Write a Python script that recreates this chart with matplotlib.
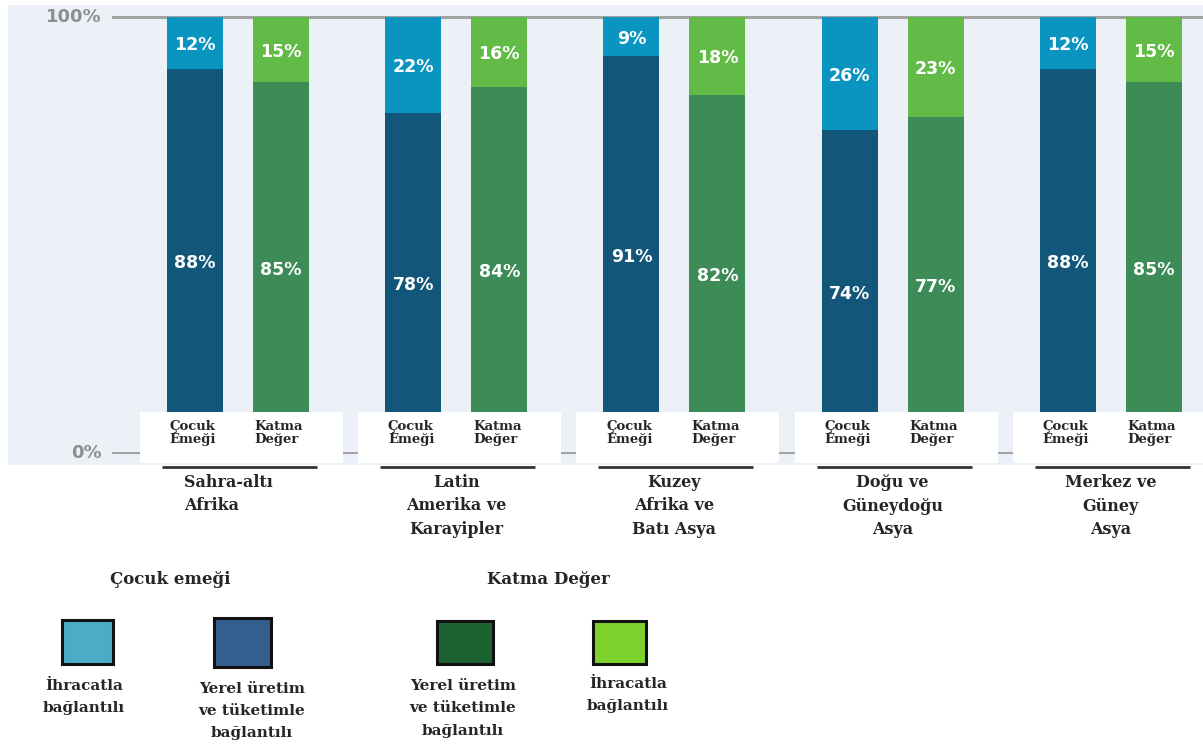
import matplotlib
matplotlib.use("Agg")
import matplotlib.pyplot as plt
from matplotlib.patches import Rectangle
import numpy as np

# ---------------- data ----------------
regions = ["Sahra-altı\nAfrika", "Latin\nAmerika ve\nKarayipler", "Kuzey\nAfrika ve\nBatı Asya",
           "Doğu ve\nGüneydoğu\nAsya", "Merkez ve\nGüney\nAsya"]
region_align = ["left", "center", "center", "center", "center"]
child_local = [88, 78, 91, 74, 88]
child_export = [12, 22, 9, 26, 12]
va_local = [85, 84, 82, 77, 85]
va_export = [15, 16, 18, 23, 15]
bar_names = ["Çocuk\nEmeği", "Katma\nDeğer"]
ytick_vals = [0, 100]
ytick_labels = ["0%", "100%"]
legend_titles = ["Çocuk emeği", "Katma Değer"]
legend_labels = ["İhracatla\nbağlantılı", "Yerel üretim\nve tüketimle\nbağlantılı",
                 "Yerel üretim\nve tüketimle\nbağlantılı", "İhracatla\nbağlantılı"]

# ---------------- styles ----------------
C_CE_LOC = "#12577A"
C_CE_EXP = "#0A94C0"
C_VA_LOC = "#3D8B57"
C_VA_EXP = "#63BB47"
LEG_COLORS = ["#4BACC6", "#345E8E", "#1D6231", "#7DD22B"]
BG = "#ECF1F8"
SERIF = ["DejaVu Serif"]
TXT = "#262626"

W, H = 1203, 749
fig = plt.figure(figsize=(W / 100, H / 100), dpi=100)
fig.patch.set_facecolor("white")


def fx(px):
    return px / W


def fy(py):
    return 1 - py / H


ax = fig.add_axes([fx(8), fy(465), (1203 - 8) / W, 460 / H])
ax.set_facecolor(BG)
for s in ax.spines.values():
    s.set_visible(False)
ax.set_xticks([])
ax.set_yticks([])

ppx = 218.2          # pixels per group
x0px = 238           # pixel of group 0 centre
ax.set_xlim((8 - x0px) / ppx, (1203 - x0px) / ppx)
ypu = 4.36           # pixels per percent
ax.set_ylim(-(465 - 453) / ypu, 100 + (17 - 5) / ypu)

x = np.arange(len(regions))
off = 86 / 2 / ppx
bw = 56 / ppx
xc = x - off
xv = x + off

# grid lines at 0 and 100
gx0 = (113 - 8) / 1195
ax.axhline(100, xmin=gx0, xmax=1, color="#A3A3A3", lw=2.2, zorder=1)
ax.axhline(0, xmin=gx0, xmax=1, color="#9A9A9A", lw=1.3, zorder=1)

# bars
ax.bar(xc, child_local, width=bw, color=C_CE_LOC, zorder=2)
ax.bar(xc, child_export, width=bw, bottom=child_local, color=C_CE_EXP, zorder=2)
ax.bar(xv, va_local, width=bw, color=C_VA_LOC, zorder=2)
ax.bar(xv, va_export, width=bw, bottom=va_local, color=C_VA_EXP, zorder=2)

lab_kw = dict(ha="center", va="center", color="white", fontsize=12.5,
              fontweight="bold", zorder=5)
for i in range(len(regions)):
    ax.text(xc[i], child_local[i] / 2 - 0.5, f"{child_local[i]}%", **lab_kw)
    ax.text(xc[i], child_local[i] + child_export[i] / 2 - 0.5, f"{child_export[i]}%", **lab_kw)
    ax.text(xv[i], va_local[i] / 2 - 0.5, f"{va_local[i]}%", **lab_kw)
    ax.text(xv[i], va_local[i] + va_export[i] / 2 - 0.5, f"{va_export[i]}%", **lab_kw)

# y tick labels drawn inside
for v, t in zip(ytick_vals, ytick_labels):
    ax.text((102 - x0px) / ppx, v, t, ha="right", va="center", color="#8E8E8E",
            fontsize=13, fontweight="bold", zorder=5)

# white label boxes under bars
box_l = (x0px - 140) / ppx
box_r = (343 - x0px) / ppx
box_b = -(463 - 453) / ypu
box_t = (453 - 412) / ypu
for i in range(len(regions)):
    ax.add_patch(Rectangle((x[i] - box_l, box_b), box_l + box_r, box_t - box_b,
                           facecolor="white", edgecolor="none", zorder=4, clip_on=False))
    for xx, name in zip([xc[i], xv[i]], bar_names):
        ax.text(xx - 2 / ppx, (453 - 433) / ypu, name, ha="center", va="center",
                family=SERIF, fontsize=9.5, fontweight="bold", color=TXT,
                multialignment="left", linespacing=1.05, zorder=6)

# underline + region labels
uy = -(467 - 453) / ypu
for i, (r, al) in enumerate(zip(regions, region_align)):
    ax.plot([x[i] - 76 / ppx, x[i] + 79 / ppx], [uy, uy], color="#333333", lw=2,
            clip_on=False, zorder=6, solid_capstyle="butt")
    dx = -10 / ppx if al == "left" else 0
    ax.text(x[i] + dx, -(474 - 453) / ypu, r, ha="center", va="top", family=SERIF,
            fontsize=11.5, fontweight="bold", color=TXT, multialignment=al,
            linespacing=1.5)

# ---------------- custom legend ----------------
fig.text(fx(170), fy(580), legend_titles[0], ha="center", va="center", family=SERIF,
         fontsize=12, fontweight="bold", color=TXT)
fig.text(fx(548), fy(580), legend_titles[1], ha="center", va="center", family=SERIF,
         fontsize=12, fontweight="bold", color=TXT)

sq = [(62, 620, 113, 664), (214, 618, 271, 667), (437, 621, 493, 664), (593, 621, 646, 664)]
lab_pos = [(84, 679), (252, 682), (463, 679), (628, 677)]
for (l, t, r, b), c, (lx, ly), lab in zip(sq, LEG_COLORS, lab_pos, legend_labels):
    fig.add_artist(Rectangle((fx(l), fy(b)), fx(r) - fx(l), fy(t) - fy(b),
                             transform=fig.transFigure, facecolor=c,
                             edgecolor="#111111", lw=2.2))
    fig.text(fx(lx), fy(ly), lab, ha="center", va="top", family=SERIF,
             fontsize=11, fontweight="bold", color=TXT, linespacing=1.75)

fig.savefig("out.png", dpi=100, facecolor="white")
